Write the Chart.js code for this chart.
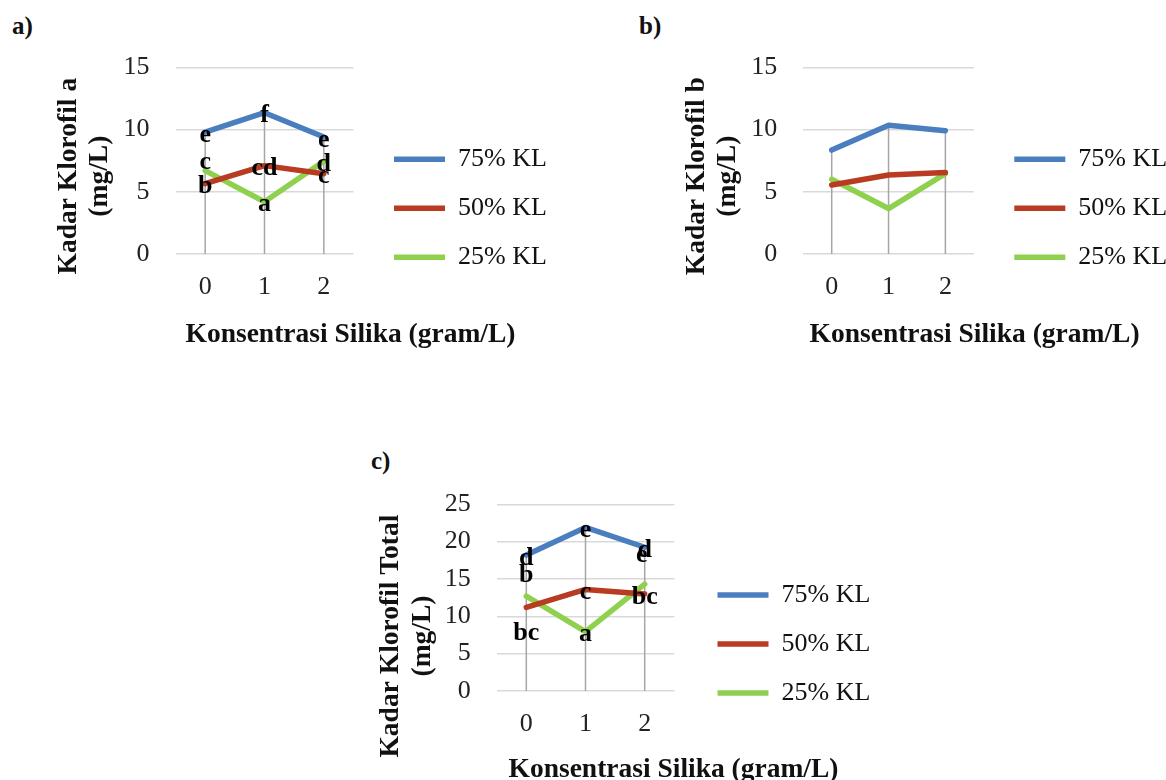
<!DOCTYPE html>
<html>
<head>
<meta charset="utf-8">
<script src="https://cdn.jsdelivr.net/npm/chart.js@4.4.1/dist/chart.umd.min.js"></script>
<style>
html, body { margin: 0; padding: 0; background: #fff; overflow: hidden; }
body { width: 1166px; height: 780px; position: relative; }
.panel { position: absolute; }
.tag { position: absolute; font: bold 25px 'Liberation Serif', serif; color: #111; line-height: 1; }
</style>
</head>
<body>
<div class="tag" style="left:12px;top:13px">a)</div>
<div class="tag" style="left:639px;top:13px">b)</div>
<div class="tag" style="left:371px;top:448px">c)</div>
<div class="panel" style="left:0px;top:20px;width:590px;height:350px"><canvas id="chartA"></canvas></div>
<div class="panel" style="left:620px;top:20px;width:548px;height:350px"><canvas id="chartB"></canvas></div>
<div class="panel" style="left:350px;top:460px;width:600px;height:340px"><canvas id="chartC"></canvas></div>
<script>
// data
var categories = ['0', '1', '2'];
var seriesLabels = ['75% KL', '50% KL', '25% KL'];
var seriesColors = ['#4a7ebf', '#b83b22', '#8fd14f'];

// a) Kadar Klorofil a
var chlA75 = [9.8, 11.35, 9.4];
var chlA50 = [5.65, 7.1, 6.45];
var chlA25 = [6.7, 4.2, 7.45];
var lettersA75 = ['e', 'f', 'e'];
var lettersA50 = ['b', 'cd', 'c'];
var lettersA25 = ['c', 'a', 'd'];

// b) Kadar Klorofil b
var chlB75 = [8.35, 10.35, 9.9];
var chlB50 = [5.55, 6.35, 6.55];
var chlB25 = [6.0, 3.65, 6.45];

// c) Kadar Klorofil Total
var chlT75 = [18.2, 21.9, 19.25];
var chlT50 = [11.2, 13.6, 13.0];
var chlT25 = [12.7, 7.95, 14.3];
var lettersT75 = ['d', 'e', 'd'];
var lettersT50 = ['bc', 'c', 'bc'];
var lettersT25 = ['b', 'a', 'e'];

var yMaxAB = 15, yMaxT = 25, yStep = 5;

Chart.defaults.font.family = "'Liberation Serif', serif";
Chart.defaults.font.size = 26;
Chart.defaults.color = '#222';

// grey lines dropped from the highest point of each category to the axis
function dropLines() {
  return {
    id: 'dropLines',
    beforeDatasetsDraw: function(chart) {
      var ctx = chart.ctx;
      var yZero = chart.scales.y.getPixelForValue(0);
      ctx.save();
      ctx.strokeStyle = '#a6a6a6';
      ctx.lineWidth = 1.5;
      chart.data.labels.forEach(function(_, j) {
        var top = Infinity, x = 0;
        chart.data.datasets.forEach(function(ds, i) {
          var p = chart.getDatasetMeta(i).data[j];
          top = Math.min(top, p.y);
          x = p.x;
        });
        ctx.beginPath();
        ctx.moveTo(x, yZero);
        ctx.lineTo(x, top);
        ctx.stroke();
      });
      ctx.restore();
    }
  };
}

// significance letters at the points
function pointLetters(shifts) {
  return {
    id: 'pointLetters',
    afterDatasetsDraw: function(chart) {
      var ctx = chart.ctx;
      ctx.save();
      ctx.font = "bold 26px 'Liberation Serif', serif";
      ctx.fillStyle = '#000';
      ctx.textAlign = 'center';
      ctx.textBaseline = 'middle';
      chart.data.datasets.forEach(function(ds, i) {
        if (!ds.letters) return;
        chart.getDatasetMeta(i).data.forEach(function(p, j) {
          var s = (shifts[i] && shifts[i][j]) || [0, 0];
          ctx.fillText(ds.letters[j], p.x + s[0], p.y + 3 + s[1]);
        });
      });
      ctx.restore();
    }
  };
}

// axis titles, placed like the Excel original
function axisTitles(t) {
  return {
    id: 'axisTitles',
    afterDraw: function(chart) {
      var ctx = chart.ctx, a = chart.chartArea;
      ctx.save();
      ctx.font = "bold 27.5px 'Liberation Serif', serif";
      ctx.fillStyle = '#111';
      ctx.textAlign = 'center';
      ctx.textBaseline = 'middle';
      ctx.fillText(t.x, (a.left + a.right) / 2 + t.xdx, a.bottom + t.xdy);
      var cy = (a.top + a.bottom) / 2 + t.ydy;
      t.y.forEach(function(line, k) {
        ctx.save();
        ctx.translate(a.left + t.ydx + k * t.ygap, cy);
        ctx.rotate(-Math.PI / 2);
        ctx.fillText(line, 0, 0);
        ctx.restore();
      });
      ctx.restore();
    }
  };
}

function makeChart(id, values, letters, yMax, frame, titles, shifts) {
  var datasets = values.map(function(v, i) {
    return {
      label: seriesLabels[i],
      data: v,
      letters: letters ? letters[i] : null,
      borderColor: seriesColors[i],
      backgroundColor: seriesColors[i],
      borderWidth: 5.5,
      borderCapStyle: 'round',
      borderJoinStyle: 'round',
      pointRadius: 0,
      pointHoverRadius: 0,
      tension: 0,
      fill: false
    };
  });
  return new Chart(document.getElementById(id), {
    type: 'line',
    data: { labels: categories, datasets: datasets },
    options: {
      animation: false,
      responsive: true,
      maintainAspectRatio: false,
      layout: { padding: frame.pad },
      plugins: {
        tooltip: { enabled: false },
        legend: {
          position: 'right',
          maxWidth: 176,
          labels: {
            usePointStyle: true,
            pointStyle: 'line',
            pointStyleWidth: 51,
            padding: 23,
            color: '#111',
            font: { size: 26 },
            // keep the clip box of the legend wide enough for the text
            generateLabels: function(chart) {
              var items = Chart.defaults.plugins.legend.labels.generateLabels(chart);
              items.forEach(function(it) { it.text = it.text + '\u2002\u2002'; });
              return items;
            }
          }
        }
      },
      scales: {
        x: {
          offset: true,
          grid: { display: false, drawTicks: false },
          border: { display: false },
          ticks: { padding: 17.4, color: '#222' },
          afterFit: function(s) { s.height = frame.xh; }
        },
        y: {
          min: 0,
          max: yMax,
          ticks: { stepSize: yStep, padding: 26, color: '#222' },
          grid: { color: '#d9d9d9', lineWidth: 1.5, drawTicks: false },
          border: { display: false },
          afterFit: function(s) { s.width = frame.yw; }
        },
        gap: {
          type: 'linear',
          position: 'right',
          grid: { display: false },
          border: { display: false },
          ticks: { display: false },
          afterFit: function(s) { s.width = frame.gap; }
        }
      }
    },
    plugins: [dropLines(), pointLetters(shifts || []), axisTitles(titles)]
  });
}

var xTitle = 'Konsentrasi Silika (gram/L)';

makeChart('chartA', [chlA75, chlA50, chlA25], [lettersA75, lettersA50, lettersA25], yMaxAB,
  { pad: { left: 0, top: 47.3, right: 43, bottom: 20.7 }, yw: 175.5, xh: 95.3, gap: 17.5 },
  { x: xTitle, xdx: 86, xdy: 81, y: ['Kadar Klorofil a', '(mg/L)'], ydx: -106.5, ygap: 31, ydy: 15.5 },
  [null, null, [[0, -11.4]]]);

makeChart('chartB', [chlB75, chlB50, chlB25], null, yMaxAB,
  { pad: { left: 0, top: 47.3, right: 0.7, bottom: 20.7 }, yw: 183.3, xh: 95.3, gap: 17.5 },
  { x: xTitle, xdx: 86, xdy: 81, y: ['Kadar Klorofil b', '(mg/L)'], ydx: -106.5, ygap: 31, ydy: 15.5 });

makeChart('chartC', [chlT75, chlT50, chlT25], [lettersT75, lettersT50, lettersT25], yMaxT,
  { pad: { left: 0, top: 44.3, right: 79.5, bottom: 16.3 }, yw: 146.7, xh: 92.7, gap: 20.2 },
  { x: xTitle, xdx: 88, xdy: 79, y: ['Kadar Klorofil Total', '(mg/L)'], ydx: -105.7, ygap: 32, ydy: 38.4 },
  [null, [[0, 23]], [[0, -24], null, [-3, -32]]]);
</script>
</body>
</html>
